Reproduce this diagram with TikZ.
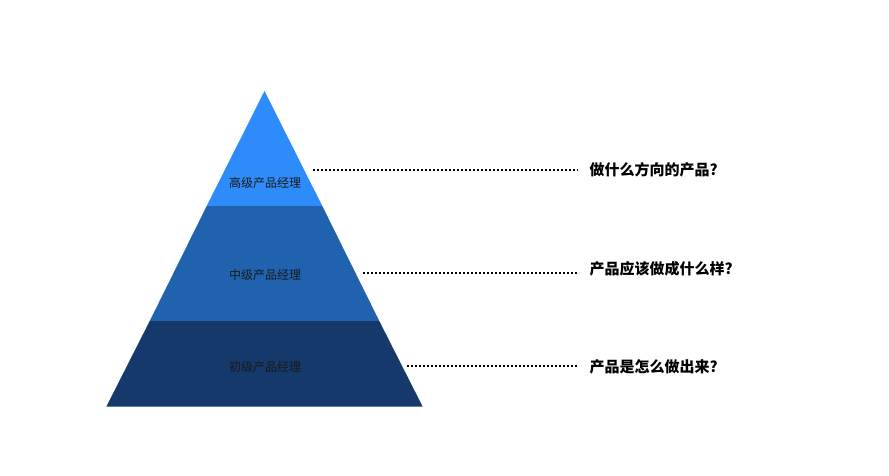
\documentclass[tikz,border=0pt]{standalone}
\usepackage{fontspec}
\newfontfamily\cjk{Noto Sans CJK SC}
\usetikzlibrary{positioning}
\definecolor{topblue}{RGB}{46,139,250}
\definecolor{midblue}{RGB}{32,98,174}
\definecolor{lowblue}{RGB}{20,57,106}
\tikzset{
	level/.style={font=\cjk\fontsize{12}{12}\selectfont, text=black!90},
	question/.style={font=\cjk\bfseries\fontsize{15}{15}\selectfont, anchor=west, inner sep=0pt},
	dotline/.style={line width=1.6pt, dash pattern=on 1.6pt off 2.4pt}
}
\begin{document}
\begin{tikzpicture}[x=1pt,y=-1pt]
	\useasboundingbox (0,0) rectangle (889,475);
	\fill[white] (0,0) rectangle (889,475);
	% pyramid
	\coordinate (apex) at (264.5,91);
	\fill[topblue] (apex) -- (322.3,206) -- (206.7,206) -- cycle;
	\fill[midblue] (206.7,206) -- (322.3,206) -- (379.3,321) -- (149.7,321) -- cycle;
	\fill[lowblue] (149.7,321) -- (379.3,321) -- (422.7,406.7) -- (106.3,406.7) -- cycle;
	\node[level] (high) at (265,183) {高级产品经理};
	\node[level] (mid) at (265,275) {中级产品经理};
	\node[level] (low) at (265,367) {初级产品经理};
	% questions
	\node[question] (q1) at (589.5,170) {做什么方向的产品?};
	\node[question] (q2) at (589.5,269) {产品应该做成什么样?};
	\node[question] (q3) at (589.5,367) {产品是怎么做出来?};
	\coordinate (s1) at (313,170); \coordinate (e1) at (578,170);
	\coordinate (s2) at (363,273); \coordinate (e2) at (579,273);
	\coordinate (s3) at (407,366); \coordinate (e3) at (577,366);
	\draw[dotline] (s1) -- (e1);
	\draw[dotline] (s2) -- (e2);
	\draw[dotline] (s3) -- (e3);
\end{tikzpicture}
\end{document}
